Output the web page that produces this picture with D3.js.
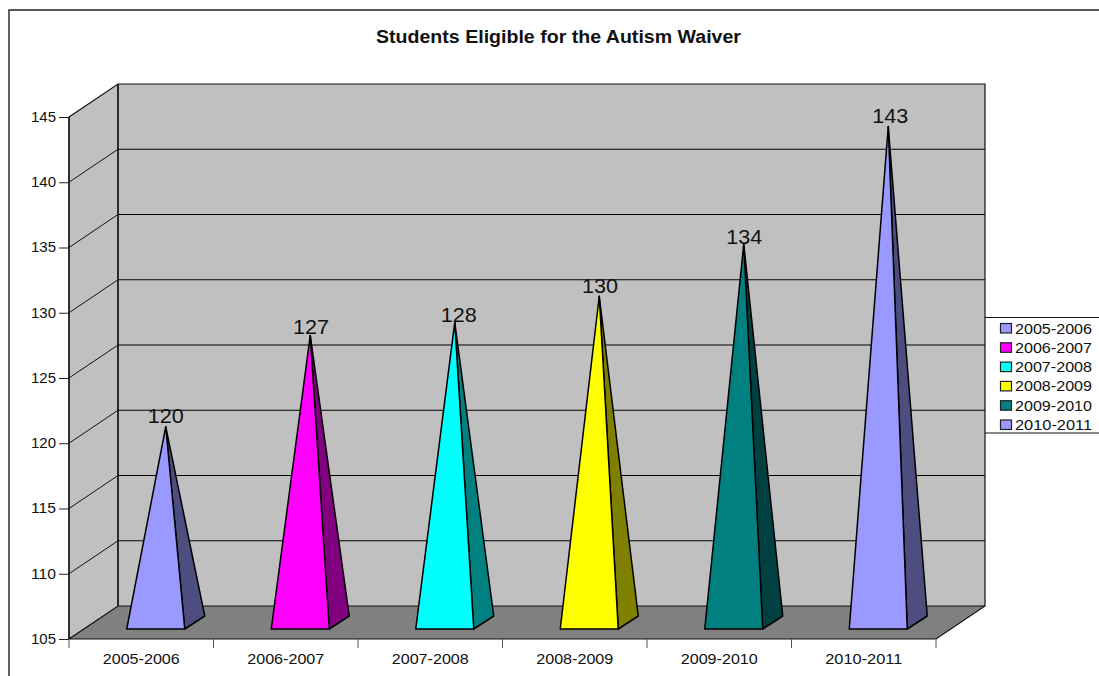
<!DOCTYPE html>
<html><head><meta charset="utf-8">
<script src="https://cdnjs.cloudflare.com/ajax/libs/d3/7.8.5/d3.min.js"></script>
<style>html,body{margin:0;padding:0;background:#fff;overflow:hidden}text{font-family:"Liberation Sans",Arial,sans-serif;fill:#111}</style>
</head><body><svg id="c" width="1099" height="676"></svg>
<script>
const categories=["2005-2006","2006-2007","2007-2008","2008-2009","2009-2010","2010-2011"];
const values=[120,127,128,130,134,143];
const frontColors=["#9999FF","#FF00FF","#00FFFF","#FFFF00","#008080","#9999FF"];
const sideColors=["#4D4D80","#800080","#008080","#808000","#004040","#4D4D80"];
const yTicks=[105,110,115,120,125,130,135,140,145];
const title="Students Eligible for the Autism Waiver";

const svg=d3.select("#c");
const x=d3.scaleBand().domain(categories).range([69,936]);
const y=d3.scaleLinear().domain([105,145]).range([639,117]);
const DX=49,DY=33;
const pts=a=>a.map(p=>p.join(",")).join(" ");
const [L,R]=x.range(), B=y(105), T=y(145);
const wide=(sel,w)=>sel.attr("textLength",w).attr("lengthAdjust","spacingAndGlyphs");

// frame
svg.append("path").attr("d","M9,676V10H1099").attr("fill","none").attr("stroke","#222").attr("stroke-width",1.4);
wide(svg.append("text").attr("x",558.5).attr("y",43).attr("text-anchor","middle").attr("font-weight","bold").attr("font-size",18).text(title),365);

// walls and floor
svg.append("polygon").attr("points",pts([[L+DX,T-DY],[R+DX,T-DY],[R+DX,B-DY],[L+DX,B-DY]])).attr("fill","#C0C0C0");
svg.append("polygon").attr("points",pts([[L,T],[L+DX,T-DY],[L+DX,B-DY],[L,B]])).attr("fill","#C0C0C0");
svg.append("polygon").attr("points",pts([[L,B],[L+DX,B-DY],[R+DX,B-DY],[R,B]])).attr("fill","#808080");

// gridlines
yTicks.slice(1,-1).forEach(t=>{
  svg.append("path").attr("d",`M${L},${y(t)}L${L+DX},${y(t)-DY}`).attr("fill","none").attr("stroke","#111").attr("stroke-width",1);
  svg.append("path").attr("d",`M${L+DX},${y(t)-DY}H${R+DX}`).attr("fill","none").attr("stroke","#000").attr("stroke-width",1);
});
// wall edges
svg.append("path").attr("d",`M${L},${T}L${L+DX},${T-DY}H${R+DX}V${B-DY}L${R},${B}H${L}L${L+DX},${B-DY}H${R+DX}`)
  .attr("fill","none").attr("stroke","#111").attr("stroke-width",1.2);
svg.append("path").attr("d",`M${L},${B}V${T}M${L+DX},${B-DY}V${T-DY}`).attr("stroke","#111").attr("stroke-width",1.7);

// y axis
const yAxis=d3.axisLeft(y).tickValues(yTicks).tickSize(10).tickPadding(3).tickFormat(d3.format("d"));
const gy=svg.append("g").attr("transform",`translate(${L},0)`).call(yAxis);
gy.select(".domain").remove();
gy.selectAll("line").attr("stroke","#222");
wide(gy.selectAll("text").attr("font-size",14).style("font-family","'Liberation Sans',Arial,sans-serif").attr("fill","#111"),25);

// x axis
const gx=svg.append("g").attr("transform",`translate(0,${B})`).call(d3.axisBottom(x).tickSize(0).tickPadding(15));
gx.select(".domain").remove();
wide(gx.selectAll("text").attr("font-size",14.5).style("font-family","'Liberation Sans',Arial,sans-serif").attr("fill","#111"),77);
d3.range(categories.length+1).forEach(i=>{
  const px=i<categories.length?x(categories[i]):R;
  svg.append("line").attr("x1",px).attr("x2",px).attr("y1",B).attr("y2",B+9).attr("stroke","#555").attr("stroke-width",1);
});

// pyramids
const labelNudgeX=[0,0.7,4,0.7,0.5,2];
const labelNudgeY=[-3.75,-1.6,-0.6,-3.5,0,-3.3];
const marks=svg.append("g").selectAll("g").data(categories).join("g");
marks.each(function(c,i){
  const g=d3.select(this);
  const cx=x(c)+x.bandwidth()/2+DX/2, yc=B-DY/2;
  const ax=cx, ay=y(values[i])-DY/2;
  const x0=cx-39, x1=cx+19, yb=yc+6.5, x2=cx+39, y2=yc-6.5;
  g.append("polygon").attr("points",pts([[x1,yb],[x2,y2],[ax,ay]])).attr("fill",sideColors[i]).attr("stroke","#000").attr("stroke-width",1.5).attr("stroke-linejoin","round");
  g.append("polygon").attr("points",pts([[x0,yb],[x1,yb],[ax,ay]])).attr("fill",frontColors[i]).attr("stroke","#000").attr("stroke-width",1.5).attr("stroke-linejoin","round");
  wide(g.append("text").attr("x",ax+labelNudgeX[i]).attr("y",ay+labelNudgeY[i]).attr("text-anchor","middle").attr("font-size",20.5).text(values[i]),36);
});

// legend
svg.append("path").attr("d",`M${R+DX},317.5H1099M${R+DX},433H1099`).attr("stroke","#111").attr("stroke-width",1.2).attr("fill","none");
const rowH=d3.scalePoint().domain(categories).range([328,424.5]);
const lg=svg.append("g").selectAll("g").data(categories).join("g");
lg.append("rect").attr("x",1000.5).attr("y",c=>rowH(c)-4.5).attr("width",11).attr("height",9.5)
  .attr("fill",(c,i)=>frontColors[i]).attr("stroke","#222").attr("stroke-width",1.2);
wide(lg.append("text").attr("x",1015).attr("y",c=>rowH(c)+5.5).attr("font-size",14.5).text(c=>c),77);
</script></body></html>
